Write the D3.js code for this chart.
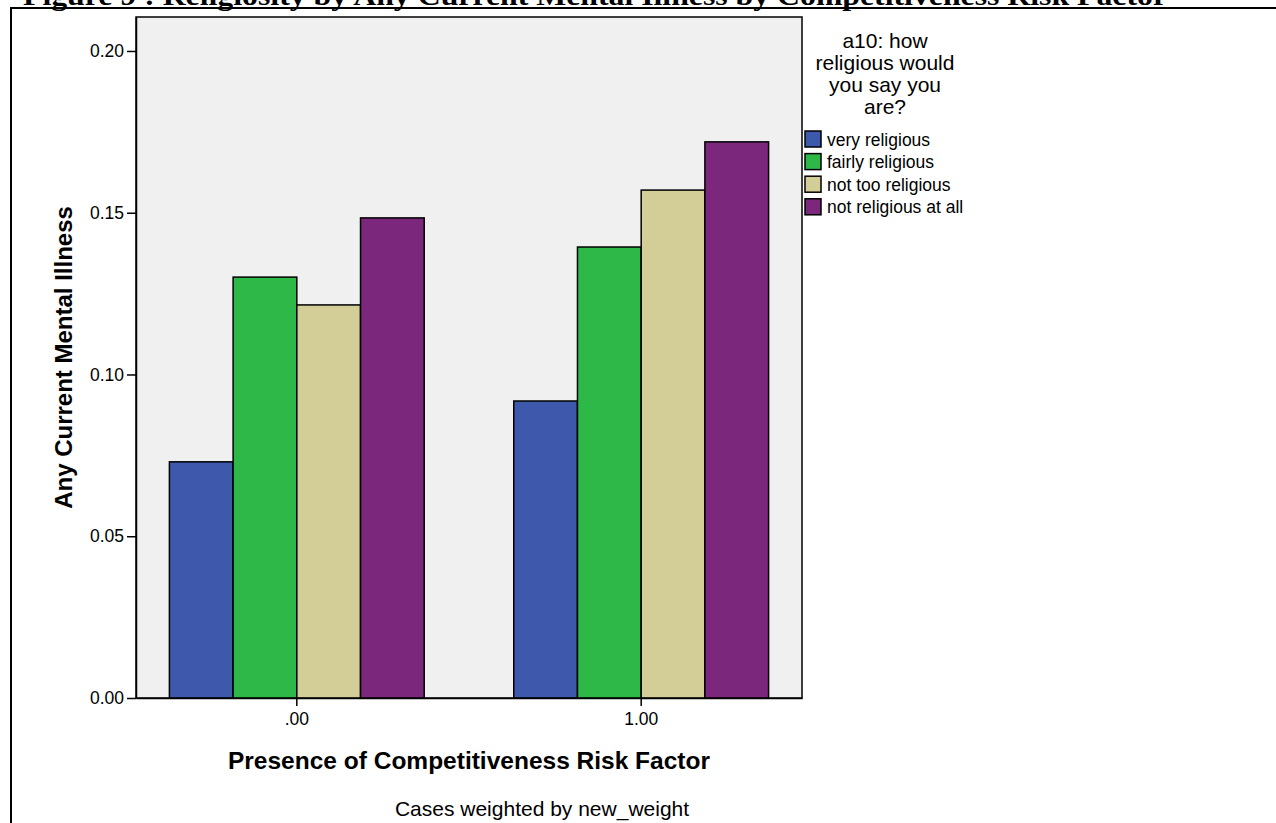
<!DOCTYPE html>
<html>
<head>
<meta charset="utf-8">
<script src="https://cdn.jsdelivr.net/npm/d3@7"></script>
<style>
  body { margin: 0; background: #fff; }
  svg { display: block; }
  text { font-family: "Liberation Sans", Arial, sans-serif; fill: #000; }
</style>
</head>
<body>
<script>
// values
const groups = [".00", "1.00"];
const series = ["very religious", "fairly religious", "not too religious", "not religious at all"];
const colors = ["#3e58ac", "#2eb848", "#d3ce97", "#7b287c"];
const valuesG0 = [0.0730, 0.1301, 0.1215, 0.1484];
const valuesG1 = [0.0918, 0.1394, 0.1570, 0.1719];
const yTicks = [0, 0.05, 0.10, 0.15, 0.20];
const legendTitle = ["a10: how", "religious would", "you say you", "are?"];

const width = 1276, height = 823;
const plot = { left: 136, right: 802, top: 17, bottom: 698 };

const svg = d3.select("body").append("svg").attr("width", width).attr("height", height);

// cut-off figure caption at the very top
svg.append("text")
  .attr("x", 23).attr("y", 5)
  .attr("textLength", 1144).attr("lengthAdjust", "spacingAndGlyphs")
  .style("font-family", "'Liberation Serif', 'Times New Roman', serif")
  .style("font-weight", "bold").style("font-size", "27px")
  .text("Figure 9 : Religiosity by Any Current Mental Illness by Competitiveness Risk Factor");

// outer frame (left and top)
svg.append("path")
  .attr("d", `M11,${height} L11,8 L${width},8`)
  .attr("fill", "none").attr("stroke", "#000").attr("stroke-width", 2);

const x0 = d3.scaleBand().domain(groups).range([plot.left, plot.right])
  .paddingInner(0.26).paddingOuter(0.097);
const x1 = d3.scaleBand().domain(series).range([0, x0.bandwidth()]);
const y = d3.scaleLinear().domain([0, 0.2105]).range([plot.bottom, plot.top]);

// plot background
svg.append("rect")
  .attr("x", plot.left).attr("y", plot.top)
  .attr("width", plot.right - plot.left).attr("height", plot.bottom - plot.top)
  .attr("fill", "#f0f0f0").attr("stroke", "#000").attr("stroke-width", 1.5);

const data = [valuesG0, valuesG1];
svg.append("g").selectAll("g")
  .data(data)
  .enter().append("g")
  .attr("transform", (d, i) => `translate(${x0(groups[i])},0)`)
  .selectAll("rect")
  .data(d => d.map((v, j) => ({ key: series[j], value: v, color: colors[j] })))
  .enter().append("rect")
  .attr("x", d => x1(d.key))
  .attr("width", x1.bandwidth())
  .attr("y", d => y(d.value))
  .attr("height", d => y(0) - y(d.value))
  .attr("fill", d => d.color)
  .attr("stroke", "#000").attr("stroke-width", 1.5);

// axes
const yAxis = svg.append("g").attr("transform", `translate(${plot.left},0)`)
  .call(d3.axisLeft(y).tickValues(yTicks).tickFormat(d3.format(".2f"))
    .tickSizeInner(9).tickSizeOuter(0).tickPadding(3));
yAxis.select(".domain").attr("stroke-width", 1.5);
yAxis.selectAll(".tick line").attr("stroke-width", 1.5);
yAxis.selectAll("text").style("font-size", "17.5px").attr("fill", "#000");

const xAxis = svg.append("g").attr("transform", `translate(0,${plot.bottom})`)
  .call(d3.axisBottom(x0).tickSizeInner(8).tickSizeOuter(0).tickPadding(7));
xAxis.select(".domain").attr("stroke-width", 1.5);
xAxis.selectAll(".tick line").attr("stroke-width", 1.5);
xAxis.selectAll("text").style("font-size", "17.5px").attr("fill", "#000");

// axis titles
svg.append("text")
  .attr("x", (plot.left + plot.right) / 2).attr("y", 769)
  .attr("text-anchor", "middle")
  .style("font-weight", "bold").style("font-size", "24.5px")
  .text("Presence of Competitiveness Risk Factor");

svg.append("text")
  .attr("transform", `translate(72,${(plot.top + plot.bottom) / 2}) rotate(-90)`)
  .attr("text-anchor", "middle")
  .style("font-weight", "bold").style("font-size", "24px")
  .text("Any Current Mental Illness");

svg.append("text")
  .attr("x", 542).attr("y", 816)
  .attr("text-anchor", "middle").style("font-size", "21px")
  .text("Cases weighted by new_weight");

// legend
const legend = svg.append("g");
legend.selectAll("text.title")
  .data(legendTitle)
  .enter().append("text").attr("class", "title")
  .attr("x", 885).attr("y", (d, i) => 48 + i * 22)
  .attr("text-anchor", "middle").style("font-size", "21px")
  .text(d => d);

const item = legend.selectAll("g.item")
  .data(series)
  .enter().append("g").attr("class", "item")
  .attr("transform", (d, i) => `translate(805,${131 + i * 22.6})`);
item.append("rect")
  .attr("width", 16).attr("height", 16)
  .attr("fill", (d, i) => colors[i])
  .attr("stroke", "#000").attr("stroke-width", 1.5);
item.append("text")
  .attr("x", 22).attr("y", 14.5)
  .style("font-size", "17.5px")
  .text(d => d);
</script>
</body>
</html>
